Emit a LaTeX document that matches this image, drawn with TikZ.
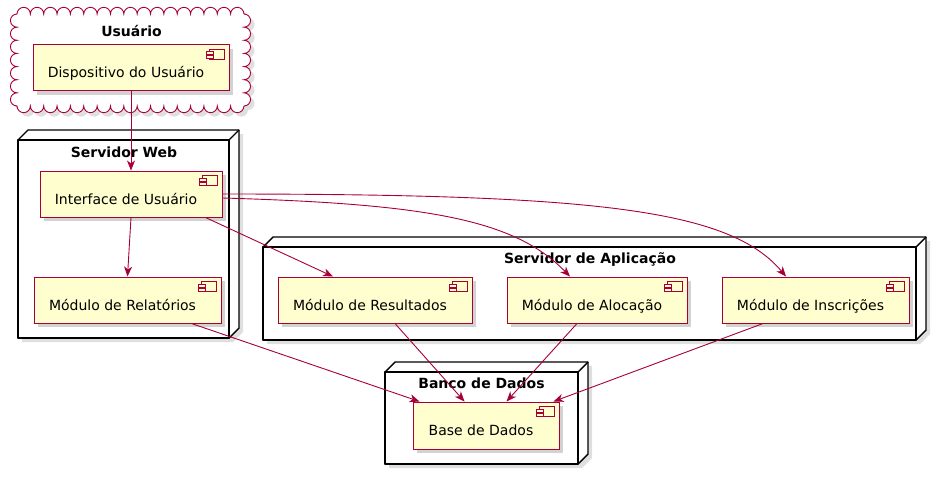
\documentclass[tikz,border=0pt]{standalone}
\usepackage{fontspec}
\setmainfont{DejaVu Sans}
\usetikzlibrary{arrows.meta,shadows}
\definecolor{compfill}{HTML}{FEFECE}
\definecolor{compline}{HTML}{A80036}
\tikzset{
  comp/.style={draw=compline,fill=compfill,line width=1pt,minimum height=46pt,
    inner sep=0pt,text height=21pt,text depth=1pt,font=\fontsize{14}{16}\selectfont,
    drop shadow={shadow xshift=4pt,shadow yshift=-4pt,opacity=0.35}},
  title/.style={anchor=base,font=\bfseries\fontsize{14}{16}\selectfont},
  link/.style={draw=compline,line width=0.9pt,-{Stealth[length=10pt,width=8pt,inset=3pt]}},
  cube/.style={draw=black,fill=white,line width=1.4pt,line join=round},
  cubeshadow/.style={drop shadow={shadow xshift=4pt,shadow yshift=-4pt,opacity=0.25}}
}
% little component icon in the top right corner
\newcommand{\compicon}[1]{
  \draw[compline,fill=compfill,line width=0.8pt] ([shift={(-20,5)}]#1.north east) rectangle ([shift={(-5,15)}]#1.north east);
  \draw[compline,fill=compfill,line width=0.8pt] ([shift={(-23,7.5)}]#1.north east) rectangle ([shift={(-16,10.5)}]#1.north east);
  \draw[compline,fill=compfill,line width=0.8pt] ([shift={(-23,11.5)}]#1.north east) rectangle ([shift={(-16,14.5)}]#1.north east);
}
% 3d node box: x1 y1 x2 y2 of the front face
\newcommand{\nodecube}[4]{
  \path[cube,cubeshadow] (#1,#2) -- ++(10,-10) -- (#3+10,#2-10) -- (#3+10,#4-10) -- (#3,#4) -- (#1,#4) -- cycle;
  \draw[cube] (#1,#2) rectangle (#3,#4);
  \draw[cube] (#3,#2) -- ++(10,-10);
}
\begin{document}
\begin{tikzpicture}[x=1pt,y=-1pt]
\useasboundingbox (0,0) rectangle (941,480);

% Cloud: Usuario
\path[draw=compline,fill=white,line width=0.9pt,cubeshadow] (17,14)
  \foreach \i in {1,...,17} { arc[start angle=180,end angle=360,radius=6.676] }
  \foreach \i in {1,...,7} { arc[start angle=-90,end angle=90,radius=6.571] }
  \foreach \i in {1,...,17} { arc[start angle=0,end angle=180,radius=6.676] }
  \foreach \i in {1,...,7} { arc[start angle=90,end angle=270,radius=6.571] } -- cycle;
\node[title] (usertitle) at (131.5,36) {Usuário};

% Nodes
\nodecube{18}{140}{229}{338}
\node[title] (webtitle) at (124,157) {Servidor Web};
\nodecube{263}{247}{916}{340}
\node[title] (apptitle) at (590,263) {Servidor de Aplicação};
\nodecube{385}{372}{578}{464}
\node[title] (dbtitle) at (481.5,388) {Banco de Dados};

% Components
\node[comp,minimum width=196pt] (dev) at (131,67.5) {Dispositivo do Usuário\hspace*{10pt}};
\node[comp,minimum width=182pt] (ui) at (131,194) {Interface de Usuário\hspace*{10pt}};
\node[comp,minimum width=187pt] (rel) at (127.5,300) {Módulo de Relatórios\hspace*{10pt}};
\node[comp,minimum width=194pt] (res) at (375,300) {Módulo de Resultados\hspace*{10pt}};
\node[comp,minimum width=180pt] (aloc) at (597,300) {Módulo de Alocação\hspace*{10pt}};
\node[comp,minimum width=187pt] (insc) at (815.5,300) {Módulo de Inscrições\hspace*{10pt}};
\node[comp,minimum width=146pt,minimum height=47pt] (base) at (486,425.5) {Base de Dados\hspace*{10pt}};
\foreach \c in {dev,ui,rel,res,aloc,insc,base} {\compicon{\c}}

% Connectors
\draw[link] (dev.south) -- (ui.north);
\draw[link] (ui.south) -- (rel.north);
\draw[link] ([xshift=-17pt]ui.south east) -- ([xshift=-42pt]res.north);
\draw[link] ([yshift=-4pt]ui.east) .. controls (430,204) and (515,220) .. ([xshift=-27pt]aloc.north);
\draw[link] (ui.east) .. controls (600,194) and (730,210) .. ([xshift=-29.5pt]insc.north);
\draw[link] ([xshift=64pt]rel.south) -- ([xshift=7pt]base.north west);
\draw[link] ([xshift=20pt]res.south) -- ([xshift=52pt]base.north west);
\draw[link] ([xshift=-20pt]aloc.south) -- ([xshift=94pt]base.north west);
\draw[link] ([xshift=-52.5pt]insc.south) -- ([xshift=-6pt]base.north east);
\end{tikzpicture}
\end{document}
